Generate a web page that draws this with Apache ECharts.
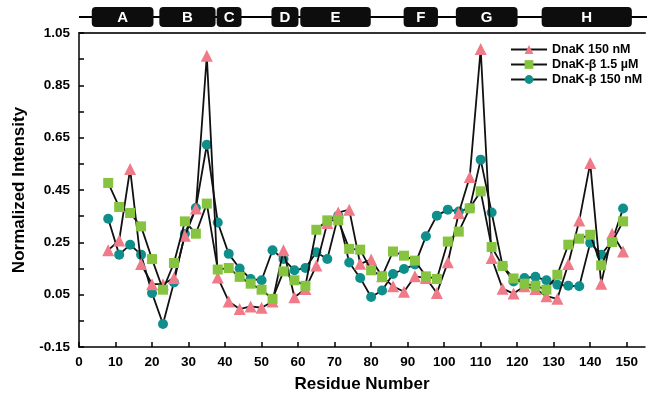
<!DOCTYPE html>
<html>
<head>
<meta charset="utf-8">
<script src="https://cdn.jsdelivr.net/npm/echarts@6/dist/echarts.min.js"></script>
<style>
html,body{margin:0;padding:0;background:#fff;}
#chart{width:647px;height:404px;}
</style>
</head>
<body>
<div id="chart"></div>
<script>
// ---- data ----
const residues = [8,11,14,17,20,23,26,29,32,35,38,41,44,47,50,53,56,59,62,65,68,71,74,77,80,83,86,89,92,95,98,101,104,107,110,113,116,119,122,125,128,131,134,137,140,143,146,149];
const dnak150 = [0.22,0.257,0.53,0.167,0.09,0.09,0.114,0.275,0.379,0.963,0.116,0.024,-0.005,0.005,0.0,0.024,0.22,0.04,0.072,0.161,0.324,0.364,0.375,0.168,0.184,0.12,0.082,0.061,0.12,0.114,0.056,0.174,0.362,0.5,0.989,0.19,0.073,0.054,0.082,0.072,0.044,0.034,0.167,0.333,0.553,0.092,0.283,0.215];
const betaHigh = [0.477,0.385,0.362,0.311,0.186,0.069,0.171,0.33,0.283,0.398,0.146,0.152,0.118,0.092,0.069,0.034,0.139,0.105,0.084,0.298,0.334,0.334,0.225,0.222,0.143,0.12,0.215,0.199,0.18,0.12,0.11,0.253,0.291,0.38,0.445,0.232,0.16,0.112,0.092,0.084,0.069,0.126,0.241,0.264,0.279,0.162,0.251,0.33];
const betaLow = [0.34,0.203,0.241,0.203,0.056,-0.062,0.097,0.283,0.381,0.623,0.326,0.206,0.15,0.11,0.105,0.22,0.186,0.143,0.152,0.212,0.186,0.352,0.173,0.114,0.041,0.066,0.129,0.148,0.165,0.273,0.352,0.375,0.368,0.38,0.566,0.364,0.16,0.1,0.114,0.118,0.105,0.088,0.084,0.082,0.248,0.203,0.255,0.379];
const seriesNames = ['DnaK 150 nM', 'DnaK-\u03b2 1.5 \u00b5M', 'DnaK-\u03b2 150 nM'];
const helixNames = ['A','B','C','D','E','F','G','H'];
const helixStart = [3.5,22.0,37.7,52.7,60.6,88.9,103.2,126.7];
const helixEnd   = [20.4,37.4,44.5,60.1,79.9,98.3,120.1,151.4];
const xTicks = [0,10,20,30,40,50,60,70,80,90,100,110,120,130,140,150];
const yLabels = [-0.15,0.05,0.25,0.45,0.65,0.85,1.05];
const yTicks = [-0.15,-0.05,0.05,0.15,0.25,0.35,0.45,0.55,0.65,0.75,0.85,0.95,1.05];
const xMin = 0, xMax = 155, yMin = -0.15, yMax = 1.05;

const FONT = '"Liberation Sans", Arial, sans-serif';
const zip = (xs, ys) => xs.map((x, i) => [x, ys[i]]);

const chart = echarts.init(document.getElementById('chart'), null, {renderer: 'canvas'});

const option = {
  backgroundColor: '#fff',
  animation: false,
  grid: [
    {left: 79, right: 2, top: 33, bottom: 57},
    {left: 79, right: 2, top: 7, height: 20}
  ],
  legend: {
    orient: 'vertical',
    left: 505, top: 38,
    itemWidth: 36, itemHeight: 11, itemGap: 2,
    data: seriesNames,
    textStyle: {fontFamily: FONT, fontWeight: 'bold', fontSize: 12.5, color: '#000'}
  },
  xAxis: [
    {
      gridIndex: 0, type: 'value', min: xMin, max: xMax,
      axisLine: {show: true, onZero: false, lineStyle: {color: '#000', width: 1.5}},
      axisTick: {show: true, inside: true, length: 5, customValues: xTicks, lineStyle: {color: '#000', width: 1.5}},
      axisLabel: {customValues: xTicks, margin: 8, fontFamily: FONT, fontWeight: 'bold', fontSize: 13.5, color: '#000'},
      splitLine: {show: false},
      name: 'Residue Number', nameLocation: 'middle', nameGap: 29,
      nameTextStyle: {fontFamily: FONT, fontWeight: 'bold', fontSize: 17, color: '#000'}
    },
    {
      gridIndex: 0, type: 'value', min: xMin, max: xMax, position: 'top',
      axisLine: {show: true, onZero: false, lineStyle: {color: '#333', width: 2.2}},
      axisTick: {show: false}, axisLabel: {show: false}, splitLine: {show: false}
    },
    {
      gridIndex: 1, type: 'value', min: xMin, max: xMax, show: false
    }
  ],
  yAxis: [
    {
      gridIndex: 0, type: 'value', min: yMin, max: yMax,
      axisLine: {show: true, onZero: false, lineStyle: {color: '#000', width: 1.5}},
      axisTick: {show: true, inside: true, length: 5, customValues: yTicks, lineStyle: {color: '#000', width: 1.5}},
      axisLabel: {customValues: yLabels, margin: 9, formatter: v => Number(v).toFixed(2),
        fontFamily: FONT, fontWeight: 'bold', fontSize: 13.5, color: '#000'},
      splitLine: {show: false},
      name: 'Normalized Intensity', nameLocation: 'middle', nameGap: 51,
      nameTextStyle: {fontFamily: FONT, fontWeight: 'bold', fontSize: 17, color: '#000'}
    },
    {
      gridIndex: 1, type: 'value', min: 0, max: 1, show: false
    }
  ],
  series: [
    {
      name: seriesNames[0], type: 'line', xAxisIndex: 0, yAxisIndex: 0,
      data: zip(residues, dnak150),
      symbol: 'triangle', symbolSize: 12,
      itemStyle: {color: '#ef7b89'},
      lineStyle: {color: '#111', width: 1.8},
      z: 3
    },
    {
      name: seriesNames[1], type: 'line', xAxisIndex: 0, yAxisIndex: 0,
      data: zip(residues, betaHigh),
      symbol: 'rect', symbolSize: 10,
      itemStyle: {color: '#86c440'},
      lineStyle: {color: '#111', width: 1.8},
      z: 4
    },
    {
      name: seriesNames[2], type: 'line', xAxisIndex: 0, yAxisIndex: 0,
      data: zip(residues, betaLow),
      symbol: 'circle', symbolSize: 10,
      itemStyle: {color: '#0f8f8c'},
      lineStyle: {color: '#111', width: 1.8},
      z: 2
    },
    {
      type: 'custom', xAxisIndex: 2, yAxisIndex: 1, silent: true,
      data: [[xMin, xMax]],
      renderItem: (params, api) => {
        const a = api.coord([xMin, 0.5]);
        const cs = params.coordSys;
        return {type: 'line', shape: {x1: a[0], y1: a[1], x2: cs.x + cs.width + 5, y2: a[1]},
          style: {stroke: '#000', lineWidth: 2}};
      },
      z: 1
    },
    {
      type: 'custom', xAxisIndex: 2, yAxisIndex: 1, silent: true,
      data: helixStart.map((s, i) => [s, helixEnd[i]]),
      renderItem: (params, api) => {
        const s = api.coord([api.value(0), 1]);
        const e = api.coord([api.value(1), 0]);
        const name = helixNames[params.dataIndex];
        return {
          type: 'group',
          children: [
            {type: 'rect', shape: {x: s[0], y: s[1], width: e[0] - s[0], height: e[1] - s[1], r: 4},
             style: {fill: '#0d0d0d'}},
            {type: 'text', style: {text: name, x: (s[0] + e[0]) / 2, y: (s[1] + e[1]) / 2 + 1,
              align: 'center', verticalAlign: 'middle', fill: '#fff',
              font: 'bold 15px "Liberation Sans", Arial, sans-serif'}}
          ]
        };
      },
      z: 2
    }
  ]
};
chart.setOption(option);
</script>
</body>
</html>
